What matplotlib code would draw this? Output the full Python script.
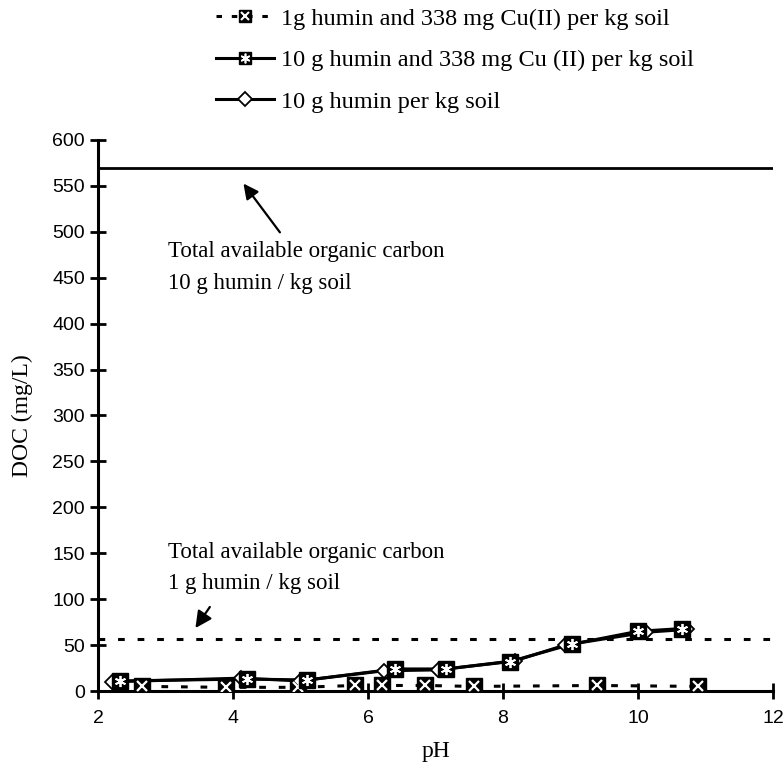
import matplotlib
matplotlib.use("Agg")
import matplotlib.pyplot as plt
from matplotlib.lines import Line2D
from matplotlib.legend_handler import HandlerTuple

# ---- data ----
ph_cu1 = [2.65, 3.89, 4.96, 5.81, 6.20, 6.84, 7.57, 9.39, 10.89]
doc_cu1 = [5, 4, 4, 6, 6, 6, 5, 6, 5]

ph_cu10 = [2.33, 4.20, 5.10, 6.40, 7.16, 8.10, 9.02, 10.00, 10.65]
doc_cu10 = [11, 13, 12, 24, 24, 32, 51, 65, 68]

ph_h10 = [2.20, 4.12, 4.99, 6.23, 7.04, 8.18, 8.92, 10.12, 10.72]
doc_h10 = [10, 14, 11, 22, 23, 33, 50, 64, 67]

total_10g = 570
total_1g = 57

labels = ["1g humin and 338 mg Cu(II) per kg soil",
          "10 g humin and 338 mg Cu (II) per kg soil",
          "10 g humin per kg soil"]
ann_10g = "Total available organic carbon\n10 g humin / kg soil"
ann_1g = "Total available organic carbon\n1 g humin / kg soil"

xticks = [2, 4, 6, 8, 10, 12]
yticks = list(range(0, 601, 50))

# ---- figure ----
fig = plt.figure(figsize=(7.83, 7.69), dpi=100)
ax = fig.add_axes([98/783, 78/769, 675/783, 551/769])

serif = ["Liberation Serif", "DejaVu Serif"]
sans = ["Liberation Sans", "DejaVu Sans"]

asterisk = (6, 2, 0)
dash = (0, (2.2, 4.2))

# threshold lines
ax.axhline(total_10g, color="black", lw=2.0, zorder=2)
ax.axhline(total_1g, color="black", lw=2.2, linestyle=dash, zorder=2)

# series 1: dashed with square + x
ax.plot(ph_cu1, doc_cu1, color="black", lw=2.2, linestyle=dash, zorder=3)
ax.plot(ph_cu1, doc_cu1, linestyle="none", marker="s", ms=11, mfc="black", mec="black", zorder=4)
ax.plot(ph_cu1, doc_cu1, linestyle="none", marker="x", ms=7, mew=1.6, mec="white", zorder=5)

# series 3: diamond
ax.plot(ph_h10, doc_h10, color="black", lw=2.2, zorder=3)
ax.plot(ph_h10, doc_h10, linestyle="none", marker="D", ms=7, mfc="white", mec="black", mew=1.3, zorder=4)

# series 2: solid with square + asterisk
ax.plot(ph_cu10, doc_cu10, color="black", lw=2.2, zorder=3)
ax.plot(ph_cu10, doc_cu10, linestyle="none", marker="s", ms=11, mfc="black", mec="black", zorder=6)
ax.plot(ph_cu10, doc_cu10, linestyle="none", marker=asterisk, ms=8, mew=1.3, mec="white", zorder=7)

ax.set_xlim(2, 12)
ax.set_ylim(0, 600)
ax.set_xticks(xticks)
ax.set_yticks(yticks)
for s in ["top", "right"]:
    ax.spines[s].set_visible(False)
for s in ["left", "bottom"]:
    ax.spines[s].set_linewidth(2.2)
ax.tick_params(direction="inout", length=11, width=2.0, labelsize=14, pad=4)
for lab in ax.get_xticklabels() + ax.get_yticklabels():
    lab.set_family(sans)
ax.tick_params(axis="x", pad=8)

ax.set_xlabel("pH", family=serif, fontsize=17, labelpad=10)
ax.set_ylabel("DOC (mg/L)", family=serif, fontsize=17, labelpad=14)

# annotations
ax.annotate("", xy=(4.13, 555), xytext=(4.72, 497),
            arrowprops=dict(arrowstyle="-|>,head_length=0.9,head_width=0.45", color="black", lw=1.6))
ax.text(3.04, 461, ann_10g, family=serif, fontsize=16.5, va="center", ha="left", linespacing=1.65)

ax.annotate("", xy=(3.42, 66), xytext=(3.68, 94),
            arrowprops=dict(arrowstyle="-|>,head_length=1.0,head_width=0.5", color="black", lw=1.6))
ax.text(3.04, 134, ann_1g, family=serif, fontsize=16.5, va="center", ha="left", linespacing=1.65)

# legend
h1 = (Line2D([], [], color="black", lw=2.2, linestyle=(0, (1.8, 3.2))),
      Line2D([], [], linestyle="none", marker="s", ms=9, mfc="black", mec="black"),
      Line2D([], [], linestyle="none", marker="x", ms=6, mew=1.5, mec="white"))
h2 = (Line2D([], [], color="black", lw=2.2),
      Line2D([], [], linestyle="none", marker="s", ms=9, mfc="black", mec="black"),
      Line2D([], [], linestyle="none", marker=asterisk, ms=7, mew=1.2, mec="white"))
h3 = (Line2D([], [], color="black", lw=2.2),
      Line2D([], [], linestyle="none", marker="D", ms=7, mfc="white", mec="black", mew=1.3))
leg = fig.legend([h1, h2, h3], labels,
                 handler_map={tuple: HandlerTuple(ndivide=1, pad=0)},
                 loc="upper left", bbox_to_anchor=(201/783, 1 + 7/769),
                 frameon=False, prop={"family": serif, "size": 17.5},
                 handlelength=2.4, handletextpad=0.3, labelspacing=0.8, numpoints=1,
                 borderaxespad=0.2)

fig.savefig("out.png", dpi=100)
